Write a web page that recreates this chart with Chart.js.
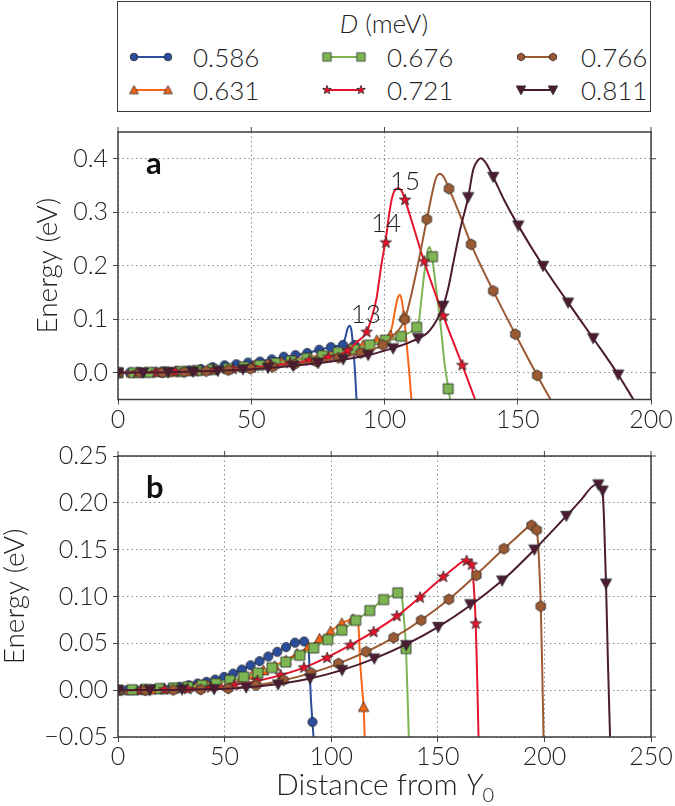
<!DOCTYPE html>
<html>
<head>
<meta charset="utf-8">
<script src="https://cdn.jsdelivr.net/npm/chart.js@4.4.1/dist/chart.umd.min.js"></script>
<style>
body{margin:0;background:#fff;font-family:Lato,'Open Sans',sans-serif;font-weight:300;color:#222}
#wrap{position:relative;width:675px;height:806px;overflow:hidden}
#legend{position:absolute;left:117px;top:1px;width:532px;height:109px;border:1.5px solid #3a3a3a}
.lt{position:absolute;font-size:26px;line-height:30px;white-space:nowrap}
canvas{position:absolute;left:0}
#xtitle{position:absolute;left:185px;width:400px;top:766px;text-align:center;font-size:30px;line-height:34px}
</style>
</head>
<body>
<div id="wrap">
  <div id="legend"></div>
  <div class="lt" style="left:284px;width:200px;top:8px;text-align:center"><i>D</i> (meV)</div>
  <canvas id="chartA" width="675" height="320" style="top:112px"></canvas>
  <canvas id="chartB" width="675" height="374" style="top:432px"></canvas>
  <div id="xtitle">Distance from <i>Y</i><sub style="font-size:20px">0</sub></div>
</div>
<script>
// series
const labels = ['0.586','0.631','0.676','0.721','0.766','0.811'];
const colors = ['#2b4d9c','#f76618','#7db553','#e5142c','#9b5a32','#4c1b32'];
const shapes = ['circle','triUp','square','star','hex','triDown'];

// axis ticks
const xTicksA = [0,50,100,150,200];
const yTicksA = [0,0.1,0.2,0.3,0.4];
const xTicksB = [0,50,100,150,200,250];
const yTicksB = [-0.05,0,0.05,0.1,0.15,0.2,0.25];

// panel a, markers and curves [x, y]
const aMarks586 = [[0,0],[4.4,0],[8.9,0.0005],[13.3,0.001],[17.8,0.002],[22.2,0.003],[26.6,0.0045],[31.1,0.007],[35.5,0.0105],[40,0.014],[44.4,0.016],[48.8,0.019],[53.3,0.021],[57.7,0.025],[62.2,0.03],[66.6,0.033],[71,0.037],[75.5,0.043],[79.9,0.048],[84.4,0.052],[88.8,0.052]];
const aCurve586 = [[0,0],[10,0.0008],[20,0.0025],[30,0.0065],[40,0.013],[50,0.019],[60,0.027],[70,0.036],[78,0.046],[82,0.05],[84.4,0.054],[85.3,0.066],[86.1,0.082],[86.9,0.088],[87.6,0.079],[88.2,0.05],[88.9,0.005],[89.5,-0.05]];
const aMarks631 = [[0,0],[5.1,0],[10.2,0.0003],[15.3,0.0008],[20.4,0.0015],[25.6,0.0025],[30.7,0.004],[35.8,0.006],[40.9,0.008],[46,0.011],[51.1,0.014],[56.2,0.017],[61.3,0.021],[66.4,0.025],[71.5,0.029],[76.7,0.034],[81.8,0.039],[86.9,0.045],[92,0.052],[97.1,0.061],[102.2,0.07],[107.3,0.106]];
const aCurve631 = [[0,0],[20,0.0014],[40,0.0075],[60,0.02],[80,0.037],[92,0.052],[97.1,0.061],[100,0.066],[102,0.072],[103,0.09],[104,0.118],[105,0.14],[105.8,0.146],[106.6,0.132],[107.3,0.106],[108.3,0.056],[109.3,0],[110.1,-0.05]];
const aMarks676 = [[0,0],[5.9,0.0003],[11.8,0.0008],[17.7,0.0015],[23.6,0.0025],[29.5,0.004],[35.4,0.006],[41.3,0.008],[47.2,0.011],[53.1,0.014],[59,0.018],[64.9,0.022],[70.8,0.027],[76.7,0.032],[82.6,0.038],[88.5,0.044],[94.4,0.052],[100.3,0.061],[106.2,0.068],[112.1,0.085],[118,0.217],[123.9,-0.03]];
const aCurve676 = [[0,0],[20,0.002],[40,0.0075],[60,0.019],[80,0.035],[94.4,0.052],[100.3,0.061],[106.2,0.068],[109,0.074],[112.1,0.087],[113,0.1],[114,0.145],[115.3,0.2],[116.2,0.228],[116.9,0.235],[117.8,0.218],[119.3,0.16],[120.8,0.1],[122.7,0.011],[124,-0.03],[124.6,-0.05]];
const aMarks721 = [[0,0],[7.2,0.0003],[14.4,0.001],[21.5,0.002],[28.7,0.003],[35.9,0.005],[43.1,0.007],[50.3,0.01],[57.4,0.014],[64.6,0.018],[71.8,0.023],[79,0.029],[86.2,0.041],[93.3,0.076],[100.5,0.243],[107.7,0.323],[114.9,0.208],[122.1,0.106],[129.2,0.014]];
const aCurve721 = [[0,0],[20,0.0018],[40,0.006],[60,0.015],[72,0.023],[79,0.029],[86.2,0.041],[89.5,0.057],[93.3,0.076],[95,0.1],[97,0.139],[98.9,0.204],[100.5,0.25],[102,0.305],[103.3,0.335],[105,0.345],[106.4,0.34],[107.7,0.323],[110,0.287],[114.9,0.208],[122.1,0.106],[129.2,0.014],[134,-0.05]];
const aMarks766 = [[0,0],[8.3,0.0003],[16.6,0.0008],[24.8,0.0015],[33.1,0.003],[41.4,0.005],[49.7,0.0075],[58,0.011],[66.2,0.016],[74.5,0.021],[82.8,0.028],[91.1,0.037],[99.4,0.052],[107.6,0.1],[115.9,0.287],[124.2,0.344],[132.5,0.24],[140.8,0.153],[149.1,0.072],[157.3,-0.005]];
const aCurve766 = [[0,0],[20,0.001],[40,0.0045],[60,0.012],[80,0.025],[91.1,0.037],[99.4,0.052],[103,0.068],[107.6,0.1],[111.8,0.185],[115.9,0.287],[118.3,0.345],[119.5,0.366],[120.8,0.372],[122.2,0.366],[124.2,0.344],[128.3,0.295],[132.5,0.24],[140.8,0.153],[149.1,0.072],[157.3,-0.005],[162.3,-0.05]];
const aMarks811 = [[0,0],[9.4,0],[18.8,0.001],[28.2,0.0018],[37.5,0.0036],[46.9,0.0065],[56.3,0.009],[65.7,0.0125],[75.1,0.018],[84.5,0.025],[93.9,0.033],[103.2,0.0455],[112.6,0.0645],[122,0.125],[131.4,0.328],[140.8,0.366],[150.2,0.275],[159.5,0.1995],[168.9,0.131],[178.3,0.0645],[187.7,-0.0036]];
const aCurve811 = [[0,0],[20,0.001],[40,0.004],[60,0.0105],[80,0.021],[93.9,0.033],[103.2,0.046],[110,0.058],[117,0.079],[122,0.125],[124,0.16],[125.8,0.205],[128.5,0.27],[131.4,0.328],[133.3,0.38],[135,0.397],[136.2,0.401],[138.3,0.39],[140.8,0.366],[145,0.322],[150.2,0.275],[159.5,0.1995],[168.9,0.131],[178.3,0.0645],[187.7,-0.0036],[193.4,-0.05]];

// panel b
const bMarks586 = [[0,0],[4.15,0],[8.3,0.0003],[12.45,0.0007],[16.6,0.0012],[20.75,0.0018],[24.9,0.0025],[29,0.0036],[33.2,0.0053],[37.3,0.0071],[41.5,0.0089],[45.6,0.0113],[49.8,0.0142],[54,0.0177],[58.1,0.022],[62.2,0.0266],[66.4,0.031],[70.5,0.036],[74.7,0.041],[78.8,0.046],[83,0.0507],[87.3,0.052],[91.2,-0.034]];
const bCurve586 = [[0,0],[10,0.0005],[20,0.0017],[30,0.004],[40,0.0083],[50,0.0143],[60,0.0242],[70,0.0355],[78.8,0.046],[83,0.0507],[87.3,0.0525],[88.6,0.0525],[89.4,0.045],[89.9,0.02],[90.5,-0.01],[91.2,-0.034],[91.7,-0.05]];
const bMarks631 = [[0,0],[5.25,0],[10.5,0.0002],[15.75,0.0005],[21,0.001],[26.25,0.0018],[31.5,0.0028],[36.75,0.0042],[42,0.0058],[47.25,0.0078],[52.5,0.0102],[57.75,0.013],[63,0.0165],[68.25,0.021],[73.5,0.026],[78.75,0.032],[84,0.039],[89.25,0.046],[94.5,0.055],[99.75,0.063],[105,0.0716],[110.25,0.076],[115.2,-0.018]];
const bCurve631 = [[0,0],[21,0.001],[42,0.0058],[57.75,0.013],[68.25,0.021],[78.75,0.032],[89.25,0.046],[99.75,0.063],[105,0.0716],[108,0.0745],[110.5,0.0765],[112,0.0755],[112.8,0.068],[113.6,0.03],[114.5,0.002],[115.2,-0.018],[115.7,-0.05]];
const bMarks676 = [[0,0],[6.6,0.0005],[13.1,0.001],[19.7,0.0018],[26.2,0.0025],[32.8,0.0035],[39.4,0.0053],[45.9,0.0071],[52.5,0.0106],[59,0.0142],[65.6,0.0184],[72.2,0.024],[78.7,0.03],[85.3,0.0372],[91.8,0.045],[98.4,0.054],[105,0.064],[111.5,0.0745],[118.1,0.085],[124.6,0.0967],[131.2,0.104],[135.1,0.0444]];
const bCurve676 = [[0,0],[19.7,0.0018],[39.4,0.0053],[52.5,0.0106],[65.6,0.0184],[78.7,0.03],[91.8,0.045],[105,0.064],[118.1,0.085],[124.6,0.0967],[131.2,0.104],[132.3,0.1065],[133,0.103],[133.6,0.09],[135.1,0.044],[136.4,-0.05]];
const bMarks721 = [[0,0],[10.9,0],[21.8,0.0007],[32.7,0.001],[43.6,0.0028],[54.5,0.0053],[65.4,0.0099],[76.3,0.016],[87.2,0.024],[98.1,0.0344],[109,0.048],[119.9,0.062],[130.8,0.079],[141.7,0.0988],[152.6,0.121],[163.5,0.138],[165.9,0.134],[167.8,0.071]];
const bCurve721 = [[0,0],[21.8,0.0005],[43.6,0.0028],[65.4,0.0099],[87.2,0.024],[109,0.048],[130.8,0.079],[152.6,0.121],[158,0.131],[161,0.1365],[163.5,0.1385],[165,0.137],[165.9,0.134],[166.6,0.12],[167.8,0.071],[168.5,0.01],[169.1,-0.05]];
const bMarks766 = [[0,0],[12.9,0],[25.9,0.0002],[38.8,0.0007],[51.7,0.0018],[64.7,0.0053],[77.6,0.0106],[90.5,0.0184],[103.4,0.0284],[116.4,0.041],[129.3,0.056],[142.2,0.0746],[155.2,0.097],[168.1,0.1226],[181,0.151],[194,0.176],[196.4,0.171],[198.3,0.0896]];
const bCurve766 = [[0,0],[25.9,0.0002],[51.7,0.0018],[77.6,0.0106],[103.4,0.0284],[129.3,0.056],[155.2,0.097],[181,0.151],[188,0.1655],[192,0.1735],[194,0.1765],[195.5,0.175],[196.4,0.171],[197.2,0.15],[198.3,0.0896],[199,0.02],[199.6,-0.05]];
const bMarks811 = [[0,0],[15,0],[30,0.0007],[45.1,0.001],[60.1,0.0028],[75.1,0.006],[90.1,0.0124],[105.1,0.0213],[120.2,0.0337],[135.2,0.048],[150.2,0.0675],[165.2,0.0917],[180.2,0.117],[195.3,0.15],[210.3,0.186],[225.3,0.2196],[227.3,0.213],[228.9,0.1137]];
const bCurve811 = [[0,0],[30,0.0005],[60.1,0.0028],[90.1,0.0124],[120.2,0.0337],[150.2,0.0675],[180.2,0.117],[195.3,0.15],[210.3,0.186],[217.5,0.204],[222,0.2165],[224.5,0.2197],[225.3,0.2198],[226.5,0.2165],[227.3,0.212],[228,0.18],[228.9,0.114],[229.8,0.03],[230.8,-0.05]];

// text notes on panel a
const noteText = ['13','14','15'];
const noteX = [93,100.6,107.7];
const noteY = [0.109,0.278,0.357];

Chart.defaults.font.family = 'Lato';

function shapePath(g, shape, m, r){
  g.beginPath();
  if(shape=='circle') g.arc(m,m,r,0,Math.PI*2);
  else if(shape=='square') g.rect(m-r,m-r,2*r,2*r);
  else if(shape=='triUp'){ g.moveTo(m,m-r); g.lineTo(m+r,m+r*0.85); g.lineTo(m-r,m+r*0.85); }
  else if(shape=='triDown'){ g.moveTo(m,m+r); g.lineTo(m+r,m-r*0.85); g.lineTo(m-r,m-r*0.85); }
  else if(shape=='star'){
    for(let i=0;i<10;i++){
      const a = -Math.PI/2 + i*Math.PI/5, rr = i%2 ? r*0.42 : r;
      g.lineTo(m+rr*Math.cos(a), m+rr*Math.sin(a));
    }
  }
  else if(shape=='hex'){
    for(let i=0;i<6;i++){
      const a = -Math.PI/2 + i*Math.PI/3;
      g.lineTo(m+r*Math.cos(a), m+r*Math.sin(a));
    }
  }
  g.closePath();
}

function marker(k, r){
  const s = Math.ceil(r*2+4);
  const c = document.createElement('canvas');
  c.width = s; c.height = s;
  const g = c.getContext('2d');
  shapePath(g, shapes[k], s/2, r);
  g.fillStyle = colors[k];
  g.fill();
  g.lineWidth = 0.8;
  g.strokeStyle = '#2a2a2a';
  g.stroke();
  return c;
}

const plotSize = [4.6,5.2,5,6,5.4,5.6];
const legSize = [3.8,4.4,4.2,4.6,4,4.8];
const plotMarks = labels.map((l,k)=>marker(k, plotSize[k]));

/* LEGEND */
const wrap = document.getElementById('wrap');
const colCenters = [[134,168],[327,361],[521,553]];
const textX = [193,387,581];
const rowY = [57,90];
labels.forEach((lab,k)=>{
  const col = Math.floor(k/2), row = k%2;
  const [c0,c1] = colCenters[col];
  const cv = document.createElement('canvas');
  cv.width = c1-c0+16; cv.height = 16;
  cv.style.left = (c0-8)+'px'; cv.style.top = (rowY[row]-8)+'px';
  const g = cv.getContext('2d');
  g.strokeStyle = colors[k]; g.lineWidth = 2;
  g.beginPath(); g.moveTo(8,8); g.lineTo(cv.width-8,8); g.stroke();
  const m = marker(k, legSize[k]);
  g.drawImage(m, 8-m.width/2, 8-m.height/2);
  g.drawImage(m, cv.width-8-m.width/2, 8-m.height/2);
  wrap.appendChild(cv);
  const t = document.createElement('div');
  t.className = 'lt';
  t.style.left = textX[col]+'px';
  t.style.top = (rowY[row]-15)+'px';
  t.textContent = lab;
  wrap.appendChild(t);
});

/* frame, outer ticks on top/right, panel letter, notes */
const framePlugin = {
  id:'frame',
  afterDraw(chart, args, opts){
    const {ctx, chartArea:{left,right,top,bottom}, scales:{x,y}} = chart;
    ctx.save();
    ctx.strokeStyle = '#3c3c3c'; ctx.lineWidth = 1.5;
    ctx.strokeRect(left,top,right-left,bottom-top);
    ctx.lineWidth = 1; ctx.strokeStyle = '#444';
    ctx.beginPath();
    x.ticks.forEach(t=>{ const px = x.getPixelForValue(t.value); ctx.moveTo(px,top); ctx.lineTo(px,top-5); });
    y.ticks.forEach(t=>{ const py = y.getPixelForValue(t.value); ctx.moveTo(right,py); ctx.lineTo(right+5,py); });
    ctx.stroke();
    ctx.fillStyle = '#111';
    ctx.font = 'bold 31px Lato';
    ctx.textAlign = 'left'; ctx.textBaseline = 'alphabetic';
    ctx.fillText(opts.label, left+28, top+42);
    if(opts.notes){
      ctx.font = '300 26px Lato';
      ctx.fillStyle = '#222';
      ctx.textAlign = 'center'; ctx.textBaseline = 'middle';
      opts.notes.text.forEach((s,i)=>{
        ctx.fillText(s, x.getPixelForValue(opts.notes.x[i]), y.getPixelForValue(opts.notes.y[i]));
      });
    }
    ctx.restore();
  }
};

const pts = arr => arr.map(p=>({x:p[0], y:p[1]}));
const tickFont = {family:'Lato', size:25, weight:'300'};

function makeChart(id, marks, curves, opt){
  const datasets = [];
  labels.forEach((lab,k)=>{
    datasets.push({
      label: lab, data: pts(curves[k]), showLine:true,
      borderColor: colors[k], borderWidth:2, pointRadius:0,
      cubicInterpolationMode:'monotone', clip:0, order:(5-k)*2+1
    });
    datasets.push({
      label: lab, data: pts(marks[k]), showLine:false,
      pointStyle: plotMarks[k], pointRadius:5, clip:0, order:(5-k)*2
    });
  });
  return new Chart(document.getElementById(id), {
    type:'line',
    data:{datasets},
    options:{
      responsive:false, animation:false, events:[],
      layout:{padding:{top:opt.padTop, right:24, left:0, bottom:0}},
      plugins:{legend:{display:false}, tooltip:{enabled:false}, frame:{label:opt.label, notes:opt.notes}},
      scales:{
        x:{
          type:'linear', min:0, max:opt.xMax,
          afterFit: s=>{ s.height = opt.xH; },
          afterBuildTicks: s=>{ s.ticks = opt.xT.map(v=>({value:v})); },
          grid:{color:'#8c8c8c', lineWidth:1, tickLength:5, tickColor:'#444', tickWidth:1},
          border:{display:false, dash:[1.5,3]},
          ticks:{color:'#222', font:tickFont, padding:0, maxRotation:0, autoSkip:false, callback:v=>String(v)}
        },
        y:{
          type:'linear', min:opt.yMin, max:opt.yMax,
          afterFit: s=>{ s.width = 118; },
          afterBuildTicks: s=>{ s.ticks = opt.yT.map(v=>({value:v})); },
          grid:{color:'#8c8c8c', lineWidth:1, tickLength:5, tickColor:'#444', tickWidth:1},
          border:{display:false, dash:[1.5,3]},
          ticks:{color:'#222', font:tickFont, padding:5, autoSkip:false,
                 callback:v=>Number(v).toFixed(opt.digits).replace('-','\u2212')},
          title:{display:true, text:'Energy (eV)', color:'#222',
                 font:{family:'Lato', size:28, weight:'300'}, padding:{top:opt.titlePad, bottom:0}}
        }
      }
    },
    plugins:[framePlugin]
  });
}

makeChart('chartA',
  [aMarks586,aMarks631,aMarks676,aMarks721,aMarks766,aMarks811],
  [aCurve586,aCurve631,aCurve676,aCurve721,aCurve766,aCurve811],
  {xT:xTicksA, yT:yTicksA, xMax:200, yMin:-0.05, yMax:0.45, digits:1, padTop:6, xH:32.5,
   titlePad:31, label:'a', notes:{text:noteText, x:noteX, y:noteY}});

makeChart('chartB',
  [bMarks586,bMarks631,bMarks676,bMarks721,bMarks766,bMarks811],
  [bCurve586,bCurve631,bCurve676,bCurve721,bCurve766,bCurve811],
  {xT:xTicksB, yT:yTicksB, xMax:250, yMin:-0.05, yMax:0.25, digits:2, padTop:24, xH:69,
   titlePad:-2, label:'b'});
</script>
</body>
</html>
